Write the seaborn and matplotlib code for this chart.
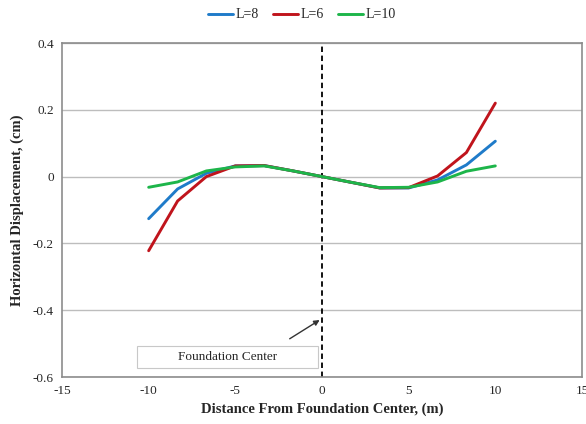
import numpy as np
import pandas as pd
import matplotlib
matplotlib.use("Agg")
import matplotlib.pyplot as plt
from matplotlib.patches import Rectangle
import seaborn as sns

distance = [-10, -8.33, -6.67, -5, -3.33, -1.67, 0, 1.67, 3.33, 5, 6.67, 8.33, 10]
disp_L8 = [-0.126, -0.037, 0.010, 0.032, 0.033, 0.017, 0.0, -0.017, -0.034, -0.034, -0.010, 0.035, 0.106]
disp_L6 = [-0.222, -0.073, 0.0, 0.032, 0.033, 0.017, 0.0, -0.017, -0.034, -0.033, 0.002, 0.072, 0.220]
disp_L10 = [-0.032, -0.016, 0.017, 0.029, 0.032, 0.017, 0.0, -0.017, -0.033, -0.032, -0.016, 0.016, 0.032]
series_names = ["L=8", "L=6", "L=10"]
series_colors = ["#1f7bc9", "#c0141c", "#1db54a"]

df = pd.concat([
    pd.DataFrame({"x": distance, "y": vals, "series": name})
    for name, vals in zip(series_names, [disp_L8, disp_L6, disp_L10])
])

sns.set_style("white")
plt.rcParams["font.family"] = ["Liberation Serif", "DejaVu Serif"]
plt.rcParams["axes.unicode_minus"] = False

fig = plt.figure(figsize=(5.86, 4.24), dpi=100)
ax = fig.add_axes([62 / 586, 1 - 377 / 424, (582 - 62) / 586, (377 - 43) / 424])

sns.lineplot(data=df, x="x", y="y", hue="series", palette=series_colors,
             hue_order=series_names, linewidth=2.1, ax=ax, sort=False)

ax.set_xlim(-15, 15)
ax.set_ylim(-0.6, 0.4)
ax.set_xticks(np.arange(-15, 16, 5))
ax.set_yticks(np.round(np.arange(-0.6, 0.41, 0.2), 1))
ax.set_yticklabels(["-0.6", "-0.4", "-0.2", "0", "0.2", "0.4"])
ax.yaxis.grid(True, color="#bdbdbd", linewidth=1.0)
ax.set_axisbelow(True)
for s in ax.spines.values():
    s.set_color("#8c8c8c")
    s.set_linewidth(1.2)
ax.tick_params(axis="both", direction="out", length=4, width=1, color="#8c8c8c",
               labelsize=9.5, pad=2)

ax.axvline(0, color="black", linestyle=(0, (3, 2)), linewidth=1.3, zorder=1)

ax.set_xlabel("Distance From Foundation Center, (m)", fontweight="bold", fontsize=10.5, labelpad=4)
ax.set_ylabel("Horizontal Displacement, (cm)", fontweight="bold", fontsize=10.5, labelpad=6)

ax.annotate("", xy=(0, -0.425), xytext=(-2.0, -0.49),
            arrowprops=dict(arrowstyle="-|>", color="#333333", lw=1.0, mutation_scale=8))
ax.add_patch(Rectangle((-10.7, -0.572), 10.45, 0.066, facecolor="white",
                       edgecolor="#c8c8c8", linewidth=0.8, zorder=3))
ax.text(-5.45, -0.539, "Foundation Center", ha="center", va="center", fontsize=9.5, zorder=4)

ax.legend_.remove()
handles, labels = ax.get_legend_handles_labels()
fig.legend(handles, labels, loc="center", bbox_to_anchor=(0.515, 1 - 15 / 424), ncol=3,
           frameon=False, fontsize=10, handlelength=1.8, handletextpad=0.2, columnspacing=1.0)

fig.savefig("out.png", dpi=100)
